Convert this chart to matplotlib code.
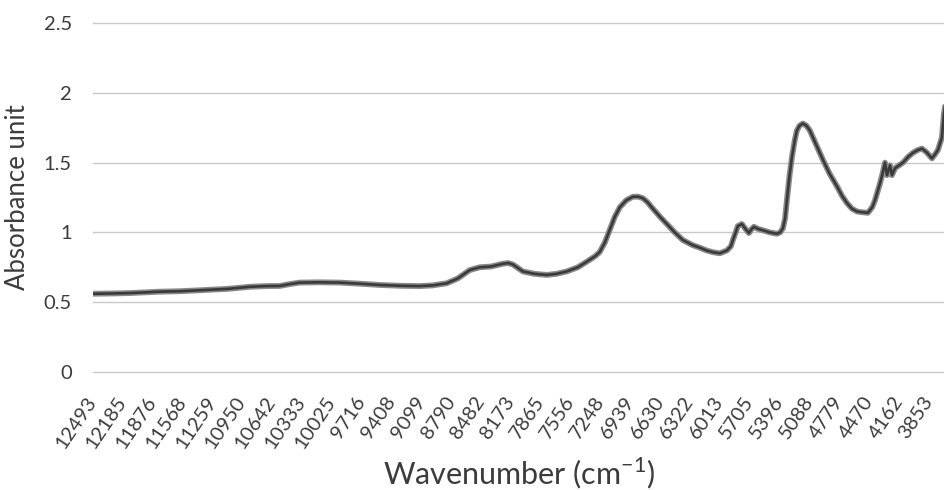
import matplotlib
matplotlib.use("Agg")
import matplotlib.pyplot as plt
import matplotlib.transforms as mtransforms

# wavenumber (cm-1) and absorbance
wavenumber = [12493, 12300, 12111, 11950, 11801, 11600, 11387, 11100, 10871, 10700, 10561,
              10450, 10354, 10150, 9941, 9730, 9527, 9300, 9114, 8980, 8835, 8720, 8597,
              8494, 8380, 8256, 8200, 8153, 8100, 8049, 7930, 7801, 7700, 7595, 7480,
              7388, 7300, 7254, 7200, 7150, 7100, 7047, 6980, 6913, 6860, 6809, 6760,
              6706, 6630, 6561, 6480, 6396, 6300, 6220, 6150, 6086, 6014, 5941, 5900,
              5879, 5850, 5828, 5786, 5755, 5714, 5690, 5662, 5620, 5569, 5500, 5424,
              5390, 5362, 5340, 5321, 5295, 5269, 5240, 5218, 5190, 5156, 5120, 5084,
              5020, 4949, 4880, 4804, 4750, 4701, 4650, 4598, 4567, 4484, 4440, 4411,
              4360, 4330, 4308, 4287, 4256, 4236, 4204, 4122, 4070, 4019, 3970, 3926,
              3880, 3823, 3790, 3761, 3720, 3699, 3678]
absorbance = [0.56, 0.562, 0.565, 0.57, 0.575, 0.578, 0.585, 0.595, 0.61, 0.615, 0.616,
              0.63, 0.64, 0.642, 0.64, 0.632, 0.623, 0.617, 0.615, 0.62, 0.635, 0.67, 0.73,
              0.75, 0.755, 0.775, 0.78, 0.77, 0.745, 0.72, 0.703, 0.695, 0.703, 0.72, 0.75,
              0.79, 0.83, 0.86, 0.93, 1.02, 1.11, 1.18, 1.23, 1.255, 1.256, 1.245, 1.215,
              1.17, 1.11, 1.06, 1.0, 0.945, 0.91, 0.89, 0.87, 0.858, 0.85, 0.87, 0.9,
              0.945, 1.0, 1.045, 1.06, 1.03, 0.995, 1.02, 1.04, 1.025, 1.015, 1.0, 0.99,
              1.0, 1.03, 1.1, 1.23, 1.4, 1.54, 1.66, 1.73, 1.765, 1.78, 1.765, 1.73,
              1.63, 1.52, 1.42, 1.33, 1.26, 1.21, 1.17, 1.15, 1.146, 1.14, 1.18, 1.23,
              1.35, 1.43, 1.5, 1.41, 1.48, 1.41, 1.46, 1.5, 1.54, 1.57, 1.59, 1.6,
              1.575, 1.53, 1.56, 1.59, 1.68, 1.85, 1.95]

tick_labels = [12493, 12185, 11876, 11568, 11259, 10950, 10642, 10333, 10025, 9716,
               9408, 9099, 8790, 8482, 8173, 7865, 7556, 7248, 6939, 6630, 6322, 6013,
               5705, 5396, 5088, 4779, 4470, 4162, 3853]

plt.rcParams["font.family"] = ["Lato", "DejaVu Sans"]
plt.rcParams["mathtext.fontset"] = "custom"
plt.rcParams["mathtext.rm"] = "Lato"

txt = "#3c3c3c"

fig = plt.figure(figsize=(9.45, 4.9), dpi=100)
ax = fig.add_axes([0.098, 0.241, 0.902, 0.712])

# grey band for the overlaid spectra, dark line on top
ax.plot(wavenumber, absorbance, color="#8a8a8a", lw=4.2, solid_capstyle="round", zorder=3)
ax.plot(wavenumber, absorbance, color="#3a3a3a", lw=1.9, zorder=4)

ax.set_xlim(12493, 3688)
ax.set_ylim(0, 2.5)
ax.set_yticks([0, 0.5, 1, 1.5, 2, 2.5])
ax.set_yticklabels(["0", "0.5", "1", "1.5", "2", "2.5"])
ax.set_xticks(tick_labels)
ax.set_xticklabels([str(t) for t in tick_labels], rotation=56, ha="right",
                   va="center", rotation_mode="anchor")
shift = mtransforms.ScaledTranslation(4 / 100, 0, fig.dpi_scale_trans)
for lab in ax.get_xticklabels():
    lab.set_transform(lab.get_transform() + shift)

ax.grid(axis="y", color="#c8c8c8", lw=1)
for gl in ax.get_ygridlines():
    gl.set_clip_on(False)
ax.set_axisbelow(True)
for s in ["top", "right", "left", "bottom"]:
    ax.spines[s].set_visible(False)
ax.tick_params(axis="both", length=0, labelsize=14.5, labelcolor=txt)
ax.tick_params(axis="x", pad=19)
ax.tick_params(axis="y", pad=15)

ax.set_ylabel("Absorbance unit", fontsize=18.5, color=txt)
ax.yaxis.set_label_coords(-0.073, 0.5)
ax.set_xlabel(r"Wavenumber (cm$^{\mathregular{-1}}$)", fontsize=22, color=txt)
ax.xaxis.set_label_coords(0.5, -0.24)

fig.savefig("out.png", dpi=100)
